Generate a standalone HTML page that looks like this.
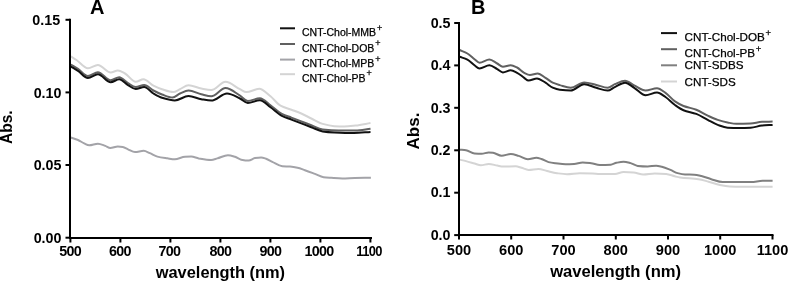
<!DOCTYPE html><html><head><meta charset="utf-8"><style>html,body{margin:0;padding:0;background:#fff;width:788px;height:281px;overflow:hidden}svg{display:block;filter:blur(0.35px)}</style></head><body>
<svg width="788" height="281" viewBox="0 0 788 281" font-family='"Liberation Sans", sans-serif'>
<rect width="788" height="281" fill="#fff"/>
<path d="M70.80 56.40 C72.70 57.60 74.60 58.73 76.50 60.00 C80.30 62.54 84.10 68.20 87.90 68.20 C91.23 68.20 94.57 64.90 97.90 64.90 C102.17 64.90 106.43 72.50 110.70 72.50 C113.07 72.50 115.43 70.60 117.80 70.60 C120.20 70.60 122.60 72.25 125.00 73.50 C128.57 75.35 132.13 81.80 135.70 81.80 C138.30 81.80 140.90 79.20 143.50 79.20 C146.80 79.20 150.10 83.93 153.40 85.60 C156.27 87.05 159.13 88.30 162.00 89.20 C165.77 90.39 169.53 92.00 173.30 92.00 C175.53 92.00 177.77 90.19 180.00 89.20 C182.83 87.95 185.67 85.20 188.50 85.20 C192.77 85.20 197.03 87.70 201.30 88.50 C204.63 89.13 207.97 90.00 211.30 90.00 C216.03 90.00 220.77 81.80 225.50 81.80 C230.33 81.80 235.17 86.90 240.00 89.20 C242.13 90.22 244.27 92.10 246.40 92.10 C250.67 92.10 254.93 88.80 259.20 88.80 C262.97 88.80 266.73 93.37 270.50 96.30 C273.83 98.89 277.17 103.80 280.50 105.60 C284.13 107.56 287.77 108.32 291.40 109.70 C294.70 110.95 298.00 112.07 301.30 113.50 C304.63 114.95 307.97 116.88 311.30 118.50 C315.10 120.35 318.90 122.83 322.70 123.90 C326.53 124.98 330.37 125.95 334.20 126.20 C337.53 126.42 340.87 126.60 344.20 126.60 C347.97 126.60 351.73 126.03 355.50 125.60 C360.50 125.02 365.50 123.87 370.50 123.00" fill="none" stroke="#d4d4d4" stroke-width="2" stroke-linejoin="round" stroke-linecap="butt"/>
<path d="M70.50 137.50 C73.00 138.33 75.50 138.96 78.00 140.00 C80.07 140.86 82.13 142.48 84.20 143.40 C85.87 144.14 87.53 145.30 89.20 145.30 C92.10 145.30 95.00 143.70 97.90 143.70 C100.37 143.70 102.83 145.03 105.30 145.90 C106.97 146.49 108.63 148.00 110.30 148.00 C112.80 148.00 115.30 146.60 117.80 146.60 C119.47 146.60 121.13 146.78 122.80 147.00 C124.53 147.23 126.27 148.57 128.00 149.30 C130.33 150.28 132.67 152.10 135.00 152.10 C137.90 152.10 140.80 150.80 143.70 150.80 C145.77 150.80 147.83 152.34 149.90 153.20 C152.40 154.24 154.90 155.96 157.40 156.60 C160.70 157.44 164.00 157.81 167.30 158.30 C169.80 158.67 172.30 159.30 174.80 159.30 C178.20 159.30 181.60 156.98 185.00 156.80 C187.07 156.69 189.13 156.60 191.20 156.60 C193.70 156.60 196.20 157.99 198.70 158.40 C202.83 159.08 206.97 159.90 211.10 159.90 C213.17 159.90 215.23 158.95 217.30 158.40 C220.83 157.46 224.37 155.20 227.90 155.20 C230.27 155.20 232.63 156.07 235.00 156.80 C237.07 157.43 239.13 159.30 241.20 159.70 C243.70 160.19 246.20 160.60 248.70 160.60 C250.77 160.60 252.83 158.46 254.90 158.10 C256.97 157.74 259.03 157.40 261.10 157.40 C262.77 157.40 264.43 158.14 266.10 158.70 C268.17 159.40 270.23 160.83 272.30 161.80 C275.63 163.37 278.97 165.90 282.30 166.20 C284.87 166.43 287.43 166.40 290.00 166.60 C292.50 166.79 295.00 167.19 297.50 167.70 C299.97 168.20 302.43 169.33 304.90 170.20 C308.23 171.37 311.57 172.65 314.90 173.90 C317.80 174.99 320.70 176.82 323.60 177.20 C326.10 177.53 328.60 177.64 331.10 177.80 C334.83 178.04 338.57 178.40 342.30 178.40 C346.43 178.40 350.57 178.08 354.70 178.00 C360.10 177.90 365.50 177.87 370.90 177.80" fill="none" stroke="#a3a3a8" stroke-width="2" stroke-linejoin="round" stroke-linecap="butt"/>
<path d="M70.80 64.60 C73.20 66.03 75.60 67.34 78.00 68.90 C81.30 71.04 84.60 76.00 87.90 76.00 C91.23 76.00 94.57 72.20 97.90 72.20 C102.17 72.20 106.43 80.30 110.70 80.30 C113.53 80.30 116.37 77.20 119.20 77.20 C122.13 77.20 125.07 81.41 128.00 83.10 C130.57 84.58 133.13 87.00 135.70 87.00 C138.53 87.00 141.37 85.00 144.20 85.00 C147.27 85.00 150.33 88.90 153.40 90.50 C156.27 92.00 159.13 93.48 162.00 94.50 C165.50 95.75 169.00 97.50 172.50 97.50 C175.00 97.50 177.50 94.55 180.00 93.50 C182.83 92.32 185.67 90.60 188.50 90.60 C192.77 90.60 197.03 93.18 201.30 94.20 C204.63 95.00 207.97 96.30 211.30 96.30 C216.03 96.30 220.77 88.10 225.50 88.10 C230.33 88.10 235.17 92.70 240.00 95.60 C242.60 97.16 245.20 101.00 247.80 101.00 C251.83 101.00 255.87 98.20 259.90 98.20 C263.43 98.20 266.97 102.81 270.50 105.30 C274.30 107.98 278.10 111.84 281.90 113.80 C285.07 115.43 288.23 116.36 291.40 117.60 C294.70 118.89 298.00 120.14 301.30 121.40 C304.63 122.67 307.97 123.94 311.30 125.20 C315.10 126.64 318.90 129.04 322.70 129.50 C327.97 130.14 333.23 130.60 338.50 130.60 C344.17 130.60 349.83 130.60 355.50 130.60 C360.50 130.60 365.50 129.33 370.50 128.70" fill="none" stroke="#606060" stroke-width="2" stroke-linejoin="round" stroke-linecap="butt"/>
<path d="M70.80 66.60 C73.20 68.03 75.60 69.34 78.00 70.90 C81.30 73.04 84.60 78.00 87.90 78.00 C91.23 78.00 94.57 74.20 97.90 74.20 C102.17 74.20 106.43 82.30 110.70 82.30 C113.53 82.30 116.37 79.20 119.20 79.20 C122.13 79.20 125.07 83.41 128.00 85.10 C130.57 86.58 133.13 89.00 135.70 89.00 C138.53 89.00 141.37 87.00 144.20 87.00 C147.27 87.00 150.33 91.71 153.40 93.50 C156.27 95.18 159.13 96.93 162.00 97.80 C166.27 99.10 170.53 100.50 174.80 100.50 C179.37 100.50 183.93 96.00 188.50 96.00 C192.77 96.00 197.03 98.44 201.30 99.20 C204.63 99.79 207.97 100.60 211.30 100.60 C216.53 100.60 221.77 93.50 227.00 93.50 C231.33 93.50 235.67 96.47 240.00 98.50 C242.60 99.72 245.20 103.00 247.80 103.00 C251.83 103.00 255.87 100.20 259.90 100.20 C263.43 100.20 266.97 104.81 270.50 107.30 C274.30 109.98 278.10 113.84 281.90 115.80 C285.07 117.43 288.23 118.36 291.40 119.60 C294.70 120.89 298.00 122.14 301.30 123.40 C304.63 124.67 307.97 125.95 311.30 127.20 C315.10 128.62 318.90 130.86 322.70 131.40 C326.53 131.94 330.37 132.24 334.20 132.40 C340.80 132.67 347.40 132.90 354.00 132.90 C359.50 132.90 365.00 132.30 370.50 132.00" fill="none" stroke="#111" stroke-width="2" stroke-linejoin="round" stroke-linecap="butt"/>
<path d="M70.0 18.8 V239.0" stroke="#000" stroke-width="2" fill="none"/>
<path d="M69.0 238.0 H372.0" stroke="#000" stroke-width="2" fill="none"/>
<path d="M65.5 19.8 H70.0" stroke="#000" stroke-width="2"/>
<text x="60.1" y="24.9" text-anchor="end" font-weight="bold" font-size="14.3">0.15</text>
<path d="M65.5 92.4 H70.0" stroke="#000" stroke-width="2"/>
<text x="61.5" y="97.5" text-anchor="end" font-weight="bold" font-size="14.3">0.10</text>
<path d="M65.5 165.0 H70.0" stroke="#000" stroke-width="2"/>
<text x="61.5" y="170.1" text-anchor="end" font-weight="bold" font-size="14.3">0.05</text>
<path d="M65.5 237.7 H70.0" stroke="#000" stroke-width="2"/>
<text x="61.5" y="242.8" text-anchor="end" font-weight="bold" font-size="14.3">0.00</text>
<path d="M70.4 238.0 V242.5" stroke="#000" stroke-width="2"/>
<text x="70.2" y="256.0" text-anchor="middle" font-weight="bold" font-size="14.3" letter-spacing="-0.7">500</text>
<path d="M120.4 238.0 V242.5" stroke="#000" stroke-width="2"/>
<text x="120.0" y="256.0" text-anchor="middle" font-weight="bold" font-size="14.3" letter-spacing="-0.7">600</text>
<path d="M170.4 238.0 V242.5" stroke="#000" stroke-width="2"/>
<text x="169.4" y="256.0" text-anchor="middle" font-weight="bold" font-size="14.3" letter-spacing="-0.7">700</text>
<path d="M220.4 238.0 V242.5" stroke="#000" stroke-width="2"/>
<text x="220.5" y="256.0" text-anchor="middle" font-weight="bold" font-size="14.3" letter-spacing="-0.7">800</text>
<path d="M270.4 238.0 V242.5" stroke="#000" stroke-width="2"/>
<text x="270.4" y="256.0" text-anchor="middle" font-weight="bold" font-size="14.3" letter-spacing="-0.7">900</text>
<path d="M320.4 238.0 V242.5" stroke="#000" stroke-width="2"/>
<text x="318.9" y="256.0" text-anchor="middle" font-weight="bold" font-size="14.3" letter-spacing="-0.7">1000</text>
<path d="M370.4 238.0 V242.5" stroke="#000" stroke-width="2"/>
<text x="369.1" y="256.0" text-anchor="middle" font-weight="bold" font-size="14.3" letter-spacing="-0.7" textLength="25.5" lengthAdjust="spacingAndGlyphs">1100</text>
<text x="220.4" y="277.6" text-anchor="middle" font-weight="bold" font-size="16.4">wavelength (nm)</text>
<text transform="translate(12.3 127.2) rotate(-90)" text-anchor="middle" font-weight="bold" font-size="15.6">Abs.</text>
<text x="90.0" y="14.0" font-weight="bold" font-size="20">A</text>
<path d="M280.0 28.3 H295.0" stroke="#111" stroke-width="2"/>
<text x="302.0" y="36.0" font-size="10.5" stroke="#000" stroke-width="0.25">CNT-Chol-MMB<tspan dx="1.0" dy="-5.2" font-size="9">+</tspan></text>
<path d="M280.0 44.0 H295.0" stroke="#606060" stroke-width="2"/>
<text x="302.0" y="51.5" font-size="10.5" stroke="#000" stroke-width="0.25">CNT-Chol-DOB<tspan dx="1.0" dy="-5.2" font-size="9">+</tspan></text>
<path d="M280.0 59.6 H295.0" stroke="#a3a3a8" stroke-width="2"/>
<text x="302.0" y="67.0" font-size="10.5" stroke="#000" stroke-width="0.25">CNT-Chol-MPB<tspan dx="1.0" dy="-5.2" font-size="9">+</tspan></text>
<path d="M280.0 74.2 H295.0" stroke="#d4d4d4" stroke-width="2"/>
<text x="302.0" y="81.6" font-size="10.5" stroke="#000" stroke-width="0.25">CNT-Chol-PB<tspan dx="1.0" dy="-5.2" font-size="9">+</tspan></text>
<path d="M459.60 159.60 C461.73 160.10 463.87 160.56 466.00 161.10 C468.83 161.82 471.67 162.70 474.50 163.50 C476.63 164.10 478.77 165.30 480.90 165.30 C483.50 165.30 486.10 163.90 488.70 163.90 C491.57 163.90 494.43 165.07 497.30 165.60 C499.20 165.95 501.10 166.60 503.00 166.60 C507.27 166.60 511.53 166.30 515.80 166.30 C517.70 166.30 519.60 167.27 521.50 167.80 C523.87 168.46 526.23 169.90 528.60 169.90 C531.90 169.90 535.20 168.90 538.50 168.90 C541.37 168.90 544.23 170.33 547.10 171.00 C550.40 171.77 553.70 172.74 557.00 173.20 C560.33 173.66 563.67 174.20 567.00 174.20 C571.27 174.20 575.53 173.20 579.80 173.20 C584.07 173.20 588.33 173.34 592.60 173.50 C595.07 173.59 597.53 174.00 600.00 174.00 C605.00 174.00 610.00 173.97 615.00 173.90 C617.83 173.86 620.67 172.10 623.50 172.10 C626.83 172.10 630.17 172.28 633.50 172.50 C636.80 172.72 640.10 174.50 643.40 174.50 C647.20 174.50 651.00 173.50 654.80 173.50 C658.60 173.50 662.40 173.65 666.20 173.90 C669.07 174.09 671.93 175.58 674.80 176.30 C676.53 176.73 678.27 177.25 680.00 177.50 C686.17 178.38 692.33 178.33 698.50 179.20 C701.83 179.67 705.17 180.82 708.50 181.70 C712.30 182.70 716.10 184.16 719.90 184.90 C723.23 185.55 726.57 186.19 729.90 186.40 C733.20 186.61 736.50 186.80 739.80 186.80 C750.73 186.80 761.67 186.80 772.60 186.80" fill="none" stroke="#d4d4d4" stroke-width="2" stroke-linejoin="round" stroke-linecap="butt"/>
<path d="M459.60 149.70 C461.73 149.87 463.87 149.93 466.00 150.20 C468.83 150.56 471.67 153.29 474.50 153.50 C476.87 153.68 479.23 153.80 481.60 153.80 C483.97 153.80 486.33 152.50 488.70 152.50 C490.13 152.50 491.57 152.65 493.00 152.80 C495.87 153.11 498.73 155.70 501.60 155.70 C504.67 155.70 507.73 154.00 510.80 154.00 C513.40 154.00 516.00 155.15 518.60 155.90 C521.70 156.79 524.80 159.20 527.90 159.20 C530.73 159.20 533.57 157.80 536.40 157.80 C538.07 157.80 539.73 158.49 541.40 159.00 C543.77 159.72 546.13 161.56 548.50 162.10 C550.87 162.64 553.23 162.91 555.60 163.20 C558.93 163.61 562.27 164.20 565.60 164.20 C568.43 164.20 571.27 164.07 574.10 163.90 C576.97 163.73 579.83 162.40 582.70 162.40 C585.53 162.40 588.37 162.84 591.20 163.20 C594.07 163.57 596.93 164.90 599.80 164.90 C603.43 164.90 607.07 164.84 610.70 164.70 C612.60 164.63 614.50 163.21 616.40 162.80 C618.77 162.29 621.13 161.70 623.50 161.70 C625.87 161.70 628.23 162.48 630.60 163.10 C632.97 163.72 635.33 165.68 637.70 165.90 C641.03 166.21 644.37 166.40 647.70 166.40 C650.53 166.40 653.37 165.70 656.20 165.70 C658.10 165.70 660.00 166.33 661.90 166.80 C664.77 167.51 667.63 168.75 670.50 169.90 C672.87 170.85 675.23 172.47 677.60 173.10 C680.07 173.76 682.53 174.40 685.00 174.50 C688.07 174.62 691.13 174.58 694.20 174.70 C696.60 174.80 699.00 175.45 701.40 176.00 C704.70 176.75 708.00 178.26 711.30 179.20 C715.10 180.28 718.90 182.10 722.70 182.10 C732.20 182.10 741.70 182.10 751.20 182.10 C755.00 182.10 758.80 180.70 762.60 180.70 C765.93 180.70 769.27 180.70 772.60 180.70" fill="none" stroke="#808080" stroke-width="2" stroke-linejoin="round" stroke-linecap="butt"/>
<path d="M459.60 50.00 C462.20 51.17 464.80 52.00 467.40 53.50 C469.77 54.87 472.13 57.44 474.50 59.20 C476.17 60.44 477.83 62.70 479.50 62.70 C482.80 62.70 486.10 59.50 489.40 59.50 C492.00 59.50 494.60 62.10 497.20 63.50 C499.10 64.52 501.00 66.70 502.90 66.70 C505.50 66.70 508.10 65.30 510.70 65.30 C512.83 65.30 514.97 66.50 517.10 67.50 C519.47 68.61 521.83 71.65 524.20 72.80 C526.10 73.73 528.00 74.90 529.90 74.90 C532.50 74.90 535.10 73.50 537.70 73.50 C540.30 73.50 542.90 76.21 545.50 77.80 C547.90 79.26 550.30 81.62 552.70 82.70 C555.07 83.77 557.43 84.42 559.80 85.10 C563.43 86.15 567.07 87.80 570.70 87.80 C575.20 87.80 579.70 82.50 584.20 82.50 C588.23 82.50 592.27 84.00 596.30 84.90 C600.10 85.75 603.90 87.80 607.70 87.80 C610.07 87.80 612.43 85.18 614.80 84.20 C618.20 82.79 621.60 80.70 625.00 80.70 C628.07 80.70 631.13 83.92 634.20 85.40 C638.00 87.24 641.80 90.60 645.60 90.60 C649.40 90.60 653.20 88.20 657.00 88.20 C659.83 88.20 662.67 90.89 665.50 92.80 C668.67 94.94 671.83 99.26 675.00 101.40 C677.83 103.31 680.67 104.91 683.50 106.00 C687.77 107.64 692.03 108.11 696.30 109.70 C700.10 111.12 703.90 113.82 707.70 115.60 C711.03 117.16 714.37 118.81 717.70 119.90 C721.00 120.98 724.30 121.88 727.60 122.50 C730.53 123.05 733.47 123.80 736.40 123.80 C741.13 123.80 745.87 123.68 750.60 123.50 C754.40 123.36 758.20 121.93 762.00 121.80 C765.53 121.68 769.07 121.67 772.60 121.60" fill="none" stroke="#606060" stroke-width="2" stroke-linejoin="round" stroke-linecap="butt"/>
<path d="M459.60 56.80 C462.20 57.73 464.80 58.30 467.40 59.60 C469.77 60.78 472.13 63.66 474.50 65.30 C476.17 66.46 477.83 68.40 479.50 68.40 C482.80 68.40 486.10 65.30 489.40 65.30 C492.00 65.30 494.60 67.72 497.20 69.10 C499.10 70.11 501.00 72.40 502.90 72.40 C505.50 72.40 508.10 70.30 510.70 70.30 C512.83 70.30 514.97 71.73 517.10 72.80 C519.47 73.98 521.83 76.20 524.20 77.80 C525.63 78.77 527.07 80.60 528.50 80.60 C531.33 80.60 534.17 78.50 537.00 78.50 C539.83 78.50 542.67 81.06 545.50 82.70 C547.90 84.09 550.30 86.71 552.70 87.70 C555.07 88.68 557.43 89.51 559.80 89.80 C563.43 90.25 567.07 90.60 570.70 90.60 C575.20 90.60 579.70 84.20 584.20 84.20 C588.23 84.20 592.27 86.72 596.30 87.80 C600.10 88.82 603.90 90.60 607.70 90.60 C610.07 90.60 612.43 88.18 614.80 87.10 C618.20 85.55 621.60 82.80 625.00 82.80 C628.07 82.80 631.13 85.98 634.20 87.80 C638.00 90.05 641.80 95.30 645.60 95.30 C649.40 95.30 653.20 92.50 657.00 92.50 C659.83 92.50 662.67 95.17 665.50 97.00 C668.67 99.05 671.83 102.76 675.00 105.00 C677.83 107.00 680.67 109.06 683.50 110.20 C687.77 111.92 692.03 112.30 696.30 113.90 C700.10 115.33 703.90 117.95 707.70 119.90 C711.03 121.61 714.37 123.70 717.70 124.90 C721.00 126.09 724.30 127.54 727.60 127.70 C731.47 127.89 735.33 128.00 739.20 128.00 C743.00 128.00 746.80 127.88 750.60 127.70 C754.40 127.53 758.20 125.97 762.00 125.60 C765.53 125.26 769.07 125.13 772.60 124.90" fill="none" stroke="#111" stroke-width="2" stroke-linejoin="round" stroke-linecap="butt"/>
<path d="M459.0 22.0 V236.0" stroke="#000" stroke-width="2" fill="none"/>
<path d="M458.0 235.0 H773.5" stroke="#000" stroke-width="2" fill="none"/>
<path d="M454.2 23.0 H459.0" stroke="#000" stroke-width="2"/>
<text x="450.5" y="27.7" text-anchor="end" font-weight="bold" font-size="14.3">0.5</text>
<path d="M454.2 65.4 H459.0" stroke="#000" stroke-width="2"/>
<text x="450.5" y="70.1" text-anchor="end" font-weight="bold" font-size="14.3">0.4</text>
<path d="M454.2 107.8 H459.0" stroke="#000" stroke-width="2"/>
<text x="450.5" y="112.5" text-anchor="end" font-weight="bold" font-size="14.3">0.3</text>
<path d="M454.2 150.3 H459.0" stroke="#000" stroke-width="2"/>
<text x="450.5" y="155.0" text-anchor="end" font-weight="bold" font-size="14.3">0.2</text>
<path d="M454.2 192.7 H459.0" stroke="#000" stroke-width="2"/>
<text x="450.5" y="197.4" text-anchor="end" font-weight="bold" font-size="14.3">0.1</text>
<path d="M454.2 235.1 H459.0" stroke="#000" stroke-width="2"/>
<text x="450.5" y="239.8" text-anchor="end" font-weight="bold" font-size="14.3">0.0</text>
<path d="M459.0 235.0 V239.5" stroke="#000" stroke-width="2"/>
<text x="459.0" y="254.5" text-anchor="middle" font-weight="bold" font-size="14.6">500</text>
<path d="M511.2 235.0 V239.5" stroke="#000" stroke-width="2"/>
<text x="511.2" y="254.5" text-anchor="middle" font-weight="bold" font-size="14.6">600</text>
<path d="M563.5 235.0 V239.5" stroke="#000" stroke-width="2"/>
<text x="563.5" y="254.5" text-anchor="middle" font-weight="bold" font-size="14.6">700</text>
<path d="M615.8 235.0 V239.5" stroke="#000" stroke-width="2"/>
<text x="615.8" y="254.5" text-anchor="middle" font-weight="bold" font-size="14.6">800</text>
<path d="M668.0 235.0 V239.5" stroke="#000" stroke-width="2"/>
<text x="668.0" y="254.5" text-anchor="middle" font-weight="bold" font-size="14.6">900</text>
<path d="M720.2 235.0 V239.5" stroke="#000" stroke-width="2"/>
<text x="720.2" y="254.5" text-anchor="middle" font-weight="bold" font-size="14.6">1000</text>
<path d="M772.5 235.0 V239.5" stroke="#000" stroke-width="2"/>
<text x="772.5" y="254.5" text-anchor="middle" font-weight="bold" font-size="14.6">1100</text>
<text x="615.6" y="276.9" text-anchor="middle" font-weight="bold" font-size="16.6">wavelength (nm)</text>
<text transform="translate(419.0 131.0) rotate(-90)" text-anchor="middle" font-weight="bold" font-size="17">Abs.</text>
<text x="471.0" y="14.0" font-weight="bold" font-size="20">B</text>
<path d="M661.0 33.1 H677.0" stroke="#111" stroke-width="2"/>
<text x="684.6" y="41.3" font-size="11.65" stroke="#000" stroke-width="0.25">CNT-Chol-DOB<tspan dx="0.6" dy="-5" font-size="9.5">+</tspan></text>
<path d="M661.0 49.2 H677.0" stroke="#606060" stroke-width="2"/>
<text x="684.6" y="57.3" font-size="11.65" stroke="#000" stroke-width="0.25">CNT-Chol-PB<tspan dx="0.6" dy="-5" font-size="9.5">+</tspan></text>
<path d="M661.0 65.3 H677.0" stroke="#808080" stroke-width="2"/>
<text x="684.6" y="69.3" font-size="11.65" stroke="#000" stroke-width="0.25">CNT-SDBS</text>
<path d="M661.0 81.5 H677.0" stroke="#d4d4d4" stroke-width="2"/>
<text x="684.6" y="85.6" font-size="11.65" stroke="#000" stroke-width="0.25">CNT-SDS</text>
</svg></body></html>
